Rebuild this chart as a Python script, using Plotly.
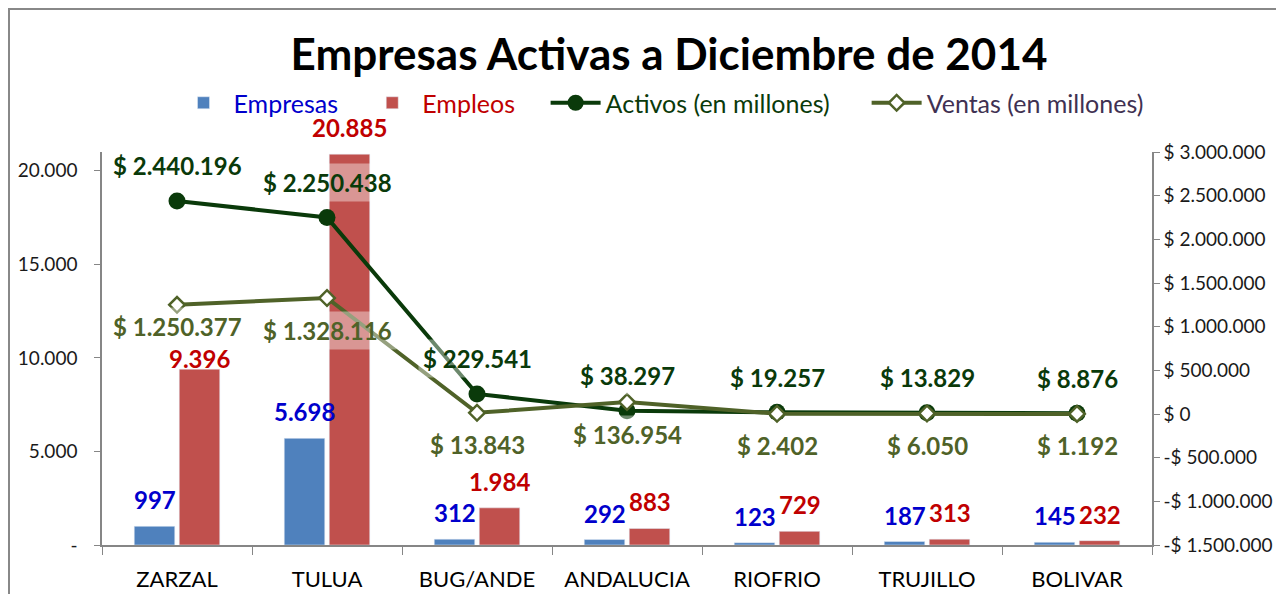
import plotly.graph_objects as go
from plotly.subplots import make_subplots

# data
municipios = ["ZARZAL", "TULUA", "BUG/ANDE", "ANDALUCIA", "RIOFRIO", "TRUJILLO", "BOLIVAR"]
empresas = [997, 5698, 312, 292, 123, 187, 145]
empleos = [9396, 20885, 1984, 883, 729, 313, 232]
activos = [2440196, 2250438, 229541, 38297, 19257, 13829, 8876]
ventas = [1250377, 1328116, 13843, 136954, 2402, 6050, 1192]

left_ticks = [0, 5000, 10000, 15000, 20000]
left_ticktext = ["-", "5.000", "10.000", "15.000", "20.000"]
right_ticks = [-1500000, -1000000, -500000, 0, 500000, 1000000, 1500000,
               2000000, 2500000, 3000000]


def miles(v):
    return f"{abs(v):,}".replace(",", ".")


def pesos(v):
    return ("-$ " if v < 0 else "$ ") + miles(v)


right_ticktext = [pesos(v) for v in right_ticks]

FONT = "Lato"
AZUL, ROJO = "#4F81BD", "#C0504D"
VERDE, OLIVA = "#0A3A0A", "#4F6228"
SP = "&nbsp;"

fig = make_subplots(specs=[[{"secondary_y": True}]])

fig.add_trace(go.Bar(x=municipios, y=empresas, marker_color=AZUL,
                     name="<span style='color:#0000CC'>Empresas</span>" + SP * 3),
              secondary_y=False)
fig.add_trace(go.Bar(x=municipios, y=empleos, marker_color=ROJO,
                     name="<span style='color:#C00000'>Empleos</span>" + SP * 4),
              secondary_y=False)
fig.add_trace(go.Scatter(x=municipios, y=activos, mode="lines+markers",
                         line=dict(color=VERDE, width=4),
                         marker=dict(symbol="circle", size=17, color=VERDE),
                         name="<span style='color:#0A3A0A'>Activos (en millones)</span>" + SP * 5,
                         cliponaxis=False),
              secondary_y=True)
fig.add_trace(go.Scatter(x=municipios, y=ventas, mode="lines+markers",
                         line=dict(color=OLIVA, width=4),
                         marker=dict(symbol="diamond", size=12, color="white",
                                     line=dict(color=OLIVA, width=2.5)),
                         name="<span style='color:#403152'>Ventas (en millones)</span>",
                         cliponaxis=False),
              secondary_y=True)

# small label nudges (pixels) where Excel placed them differently
nudge_empleos = {"ZARZAL": -16}
nudge_ventas = {"ZARZAL": 10}

anns = []
lab_font = dict(family=FONT, size=24, weight="bold")
for m, e, p, a, v in zip(municipios, empresas, empleos, activos, ventas):
    anns.append(dict(x=m, y=e, xref="x", yref="y", text=miles(e), showarrow=False,
                     xshift=-22.5, yshift=10, yanchor="bottom",
                     font=dict(lab_font, color="#0000CC")))
    anns.append(dict(x=m, y=p, xref="x", yref="y", text=miles(p), showarrow=False,
                     xshift=22.5, yshift=10 + nudge_empleos.get(m, 0), yanchor="bottom",
                     font=dict(lab_font, color="#C00000")))
    anns.append(dict(x=m, y=a, xref="x", yref="y2", text=pesos(a), showarrow=False,
                     yshift=35, bgcolor="rgba(255,255,255,0.4)", borderpad=4,
                     font=dict(lab_font, color=VERDE)))
    anns.append(dict(x=m, y=v, xref="x", yref="y2", text=pesos(v), showarrow=False,
                     yshift=-32 + nudge_ventas.get(m, 0),
                     bgcolor="rgba(255,255,255,0.4)", borderpad=4,
                     font=dict(lab_font, color=OLIVA)))

# figure sits 8px into the page (body margin); plot area 94..1144 x 144..537
W, H = 1276, 586
L, R, T, B = 94, 132, 144, 49
PW, PH = W - L - R, H - T - B

fig.update_layout(
    width=W, height=H,
    margin=dict(l=L, r=R, t=T, b=B, autoexpand=False),
    paper_bgcolor="white", plot_bgcolor="white",
    separators=",.",
    font=dict(family=FONT, color="#1a1a1a"),
    title=dict(text="Empresas Activas a Diciembre de 2014", xref="paper", x=0.54,
               xanchor="center", y=1 - 47 / H, yanchor="middle",
               font=dict(family=FONT, size=44, weight="bold", color="black")),
    barmode="group", bargap=0.4, bargroupgap=0.1,
    showlegend=True,
    legend=dict(orientation="h", xref="container", yref="container",
                x=(661 - 8) / W, xanchor="center", y=1 - 95 / H, yanchor="middle",
                font=dict(family=FONT, size=25), traceorder="normal",
                itemwidth=50, bgcolor="rgba(0,0,0,0)"),
    annotations=anns,
    shapes=[dict(type="rect", xref="paper", yref="paper",
                 x0=(1 - L) / PW, x1=(W + 20 - L) / PW,
                 y0=-(B + 20) / PH, y1=(PH + T - 1) / PH,
                 line=dict(color="#888888", width=2))],
)

fig.update_xaxes(domain=[0, 1], showline=True, linecolor="#868686", linewidth=1.5,
                 showgrid=False, ticks="outside", tickson="boundaries", ticklen=8,
                 tickcolor="#868686", tickfont=dict(family=FONT, size=22, color="black"),
                 ticklabelstandoff=14, automargin=False)
fig.update_yaxes(secondary_y=False, range=[0, 21000], tickvals=left_ticks,
                 ticktext=left_ticktext, showline=True, linecolor="#868686",
                 linewidth=1.5, showgrid=False, zeroline=False, ticks="outside",
                 ticklen=6, tickcolor="#868686", ticklabelstandoff=13,
                 tickfont=dict(family=FONT, size=19, color="#1a1a1a"), automargin=False)
fig.update_yaxes(secondary_y=True, range=[-1500000, 3000000], tickvals=right_ticks,
                 ticktext=right_ticktext, showline=True, linecolor="#868686",
                 linewidth=1.5, showgrid=False, zeroline=False, ticks="outside",
                 ticklen=6, tickcolor="#868686", ticklabelstandoff=0,
                 tickfont=dict(family=FONT, size=19, color="#1a1a1a"), automargin=False)

fig.write_html("out.html")
